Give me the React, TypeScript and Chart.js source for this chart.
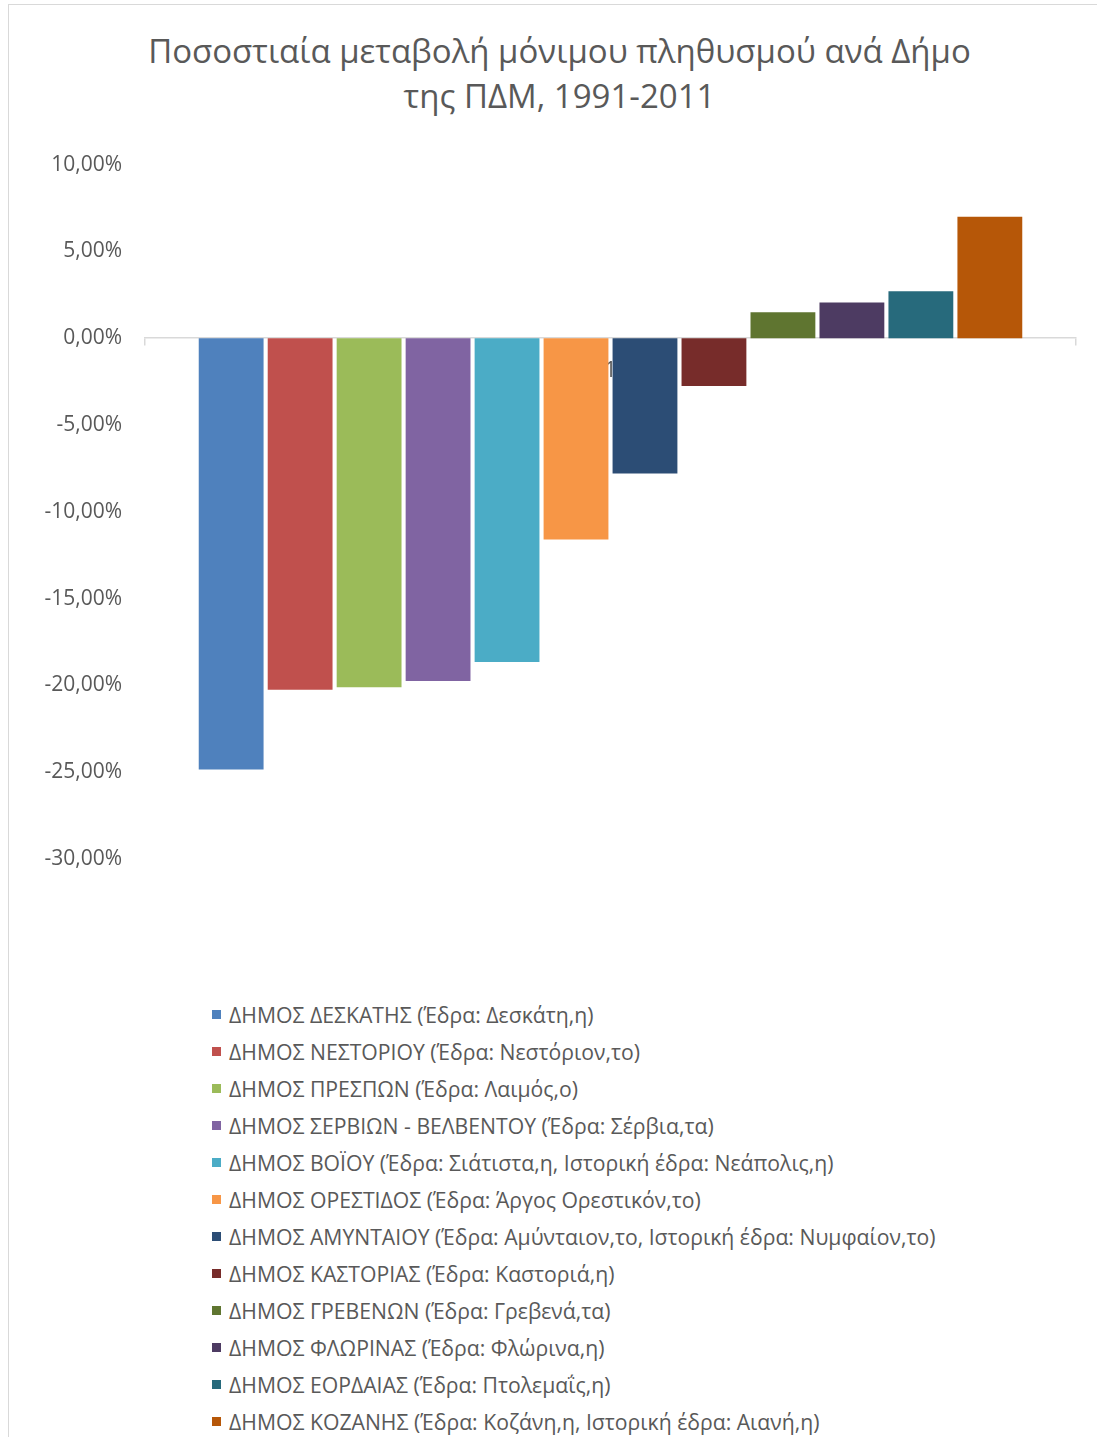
import React, { useEffect, useRef } from "react";
import { Chart, registerables } from "chart.js";

Chart.register(...registerables);

const TITLE_LINES = ["Ποσοστιαία μεταβολή μόνιμου πληθυσμού ανά Δήμο", "της ΠΔΜ, 1991-2011"];
const CATEGORIES = ["1"];
const SERIES_NAMES = [
  "ΔΗΜΟΣ ΔΕΣΚΑΤΗΣ (Έδρα: Δεσκάτη,η)",
  "ΔΗΜΟΣ ΝΕΣΤΟΡΙΟΥ (Έδρα: Νεστόριον,το)",
  "ΔΗΜΟΣ ΠΡΕΣΠΩΝ (Έδρα: Λαιμός,ο)",
  "ΔΗΜΟΣ ΣΕΡΒΙΩΝ - ΒΕΛΒΕΝΤΟΥ (Έδρα: Σέρβια,τα)",
  "ΔΗΜΟΣ ΒΟΪΟΥ (Έδρα: Σιάτιστα,η, Ιστορική έδρα: Νεάπολις,η)",
  "ΔΗΜΟΣ ΟΡΕΣΤΙΔΟΣ (Έδρα: Άργος Ορεστικόν,το)",
  "ΔΗΜΟΣ ΑΜΥΝΤΑΙΟΥ (Έδρα: Αμύνταιον,το, Ιστορική έδρα: Νυμφαίον,το)",
  "ΔΗΜΟΣ ΚΑΣΤΟΡΙΑΣ (Έδρα: Καστοριά,η)",
  "ΔΗΜΟΣ ΓΡΕΒΕΝΩΝ (Έδρα: Γρεβενά,τα)",
  "ΔΗΜΟΣ ΦΛΩΡΙΝΑΣ (Έδρα: Φλώρινα,η)",
  "ΔΗΜΟΣ ΕΟΡΔΑΙΑΣ (Έδρα: Πτολεμαΐς,η)",
  "ΔΗΜΟΣ ΚΟΖΑΝΗΣ (Έδρα: Κοζάνη,η, Ιστορική έδρα: Αιανή,η)",
];
const SERIES_VALUES = [-24.85, -20.25, -20.1, -19.75, -18.65, -11.6, -7.8, -2.75, 1.5, 2.05, 2.7, 7.0];
const SERIES_COLORS = [
  "#4F81BD", "#C0504D", "#9BBB59", "#8064A2", "#4BACC6", "#F79646",
  "#2C4D75", "#772C2A", "#5F7530", "#4D3B62", "#276A7C", "#B65708",
];
const Y_MIN = -30;
const Y_MAX = 10;
const Y_STEP = 5;

const FONT = "'Open Sans', 'Noto Sans', sans-serif";
const TEXT_COLOR = "#595959";
const LINE_COLOR = "#d9d9d9";

export default function App() {
  const canvasRef = useRef<HTMLCanvasElement | null>(null);

  useEffect(() => {
    const canvas = canvasRef.current;
    if (!canvas) return;
    const chart = new Chart(canvas, {
      type: "bar",
      data: {
        labels: CATEGORIES,
        datasets: SERIES_NAMES.map((name, i) => ({
          label: name,
          data: [SERIES_VALUES[i]],
          backgroundColor: SERIES_COLORS[i],
          borderWidth: 0,
          categoryPercentage: 0.889,
          barPercentage: 0.94,
        })),
      },
      options: {
        animation: false,
        responsive: false,
        maintainAspectRatio: false,
        layout: { padding: { top: 0, bottom: 39, left: 0, right: 21 } },
        plugins: {
          legend: { display: false },
          title: { display: false },
          tooltip: { enabled: false },
        },
        scales: {
          x: {
            type: "category",
            position: { y: 0 } as any,
            grid: {
              display: true,
              drawOnChartArea: false,
              drawTicks: true,
              tickLength: 7,
              color: LINE_COLOR,
              lineWidth: 1.5,
              offset: true,
            },
            border: { display: true, color: LINE_COLOR, width: 1.5 },
            ticks: {
              color: TEXT_COLOR,
              font: { family: FONT, size: 21 },
              padding: 13,
            },
          },
          y: {
            min: Y_MIN,
            max: Y_MAX,
            grid: { display: false, drawTicks: false },
            border: { display: false },
            ticks: {
              stepSize: Y_STEP,
              color: TEXT_COLOR,
              font: { family: FONT, size: 21 },
              padding: 23,
              callback: (v: any) => Number(v).toFixed(2).replace(".", ",") + "%",
            },
            afterFit: (s: any) => {
              s.width = 145;
            },
          },
        },
      },
    });
    return () => chart.destroy();
  }, []);

  return (
    <div
      style={{
        position: "fixed",
        left: 0,
        top: 0,
        width: 1097,
        height: 1437,
        overflow: "hidden",
        background: "#fff",
        fontFamily: FONT,
      }}
    >
      <div
        style={{
          position: "absolute",
          left: 8,
          top: 4,
          width: 1120,
          height: 1460,
          border: `1.5px solid ${LINE_COLOR}`,
          boxSizing: "border-box",
        }}
      />
      <div
        style={{
          position: "absolute",
          left: 20,
          top: 28,
          width: 1079,
          textAlign: "center",
          color: TEXT_COLOR,
          fontSize: 33,
          lineHeight: "45px",
        }}
      >
        {TITLE_LINES.map((t, i) => (
          <div key={i}>{t}</div>
        ))}
      </div>
      <canvas
        ref={canvasRef}
        width={1097}
        height={769}
        style={{ position: "absolute", left: 0, top: 129, width: 1097, height: 769 }}
      />
      <div style={{ position: "absolute", left: 212, top: 996 }}>
        {SERIES_NAMES.map((name, i) => (
          <div
            key={i}
            style={{
              display: "flex",
              alignItems: "center",
              height: 37,
              color: TEXT_COLOR,
              fontSize: 21.2,
              whiteSpace: "nowrap",
            }}
          >
            <span
              style={{
                display: "inline-block",
                width: 9,
                height: 9,
                background: SERIES_COLORS[i],
                marginRight: 8,
              }}
            />
            <span>{name}</span>
          </div>
        ))}
      </div>
    </div>
  );
}
